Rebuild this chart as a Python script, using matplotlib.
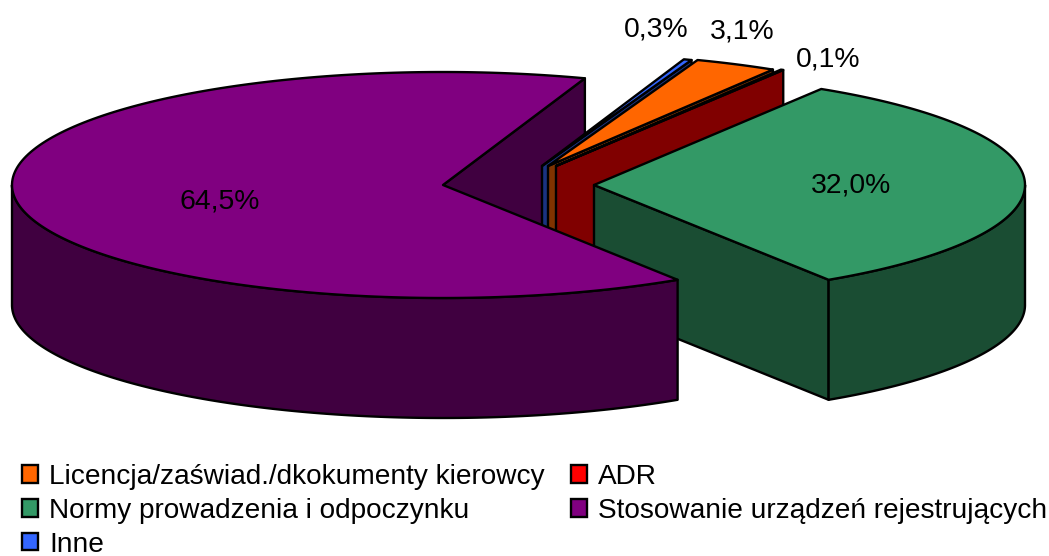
import numpy as np
import matplotlib
matplotlib.use("Agg")
import matplotlib.pyplot as plt
from matplotlib.patches import Patch, Polygon

plt.rcParams['font.family'] = ['Liberation Sans', 'DejaVu Sans']

# --- Data (clockwise, as in the legend) ---
categories = ["Licencja/zaświad./dkokumenty kierowcy", "ADR",
              "Normy prowadzenia i odpoczynku",
              "Stosowanie urządzeń rejestrujących", "Inne"]
values = [3.1, 0.1, 32.0, 64.5, 0.3]
value_labels = ["3,1%", "0,1%", "32,0%", "64,5%", "0,3%"]

top_colors = ["#FF6600", "#FF0000", "#339966", "#800080", "#3366FF"]
side_colors = ["#803300", "#800000", "#1A4D33", "#400040", "#1A3380"]

# --- Pie geometry in pixels ---
first_angle = 69.7
rx, ry, depth = 431, 113, 120
centers = [(548, 166), (556, 166), (594, 185), (443, 185), (542, 166)]
label_pos = [(742, 31), (828, 58), (851, 185), (220, 201), (656, 29)]
LW = 1.7


def arc(cx, cy, t0, t1):
    t = np.radians(np.linspace(t0, t1, 200))
    return np.column_stack([cx + rx * np.cos(t), cy - ry * np.sin(t)])


def draw_wall(ax, i):
    # flat cut face at the clockwise end of the slice
    cx, cy = centers[i]
    b = ends[i]
    if np.cos(np.radians(b)) > 0:
        end = arc(cx, cy, b, b)[0]
        wall = [(cx, cy), end, end + (0, depth), (cx, cy + depth)]
        ax.add_patch(Polygon(wall, fc=side_colors[i], ec="black", lw=LW, joinstyle="round"))


def draw_body(ax, i):
    cx, cy = centers[i]
    a, b = starts[i], ends[i]
    # front rim, only where the arc is turned to the viewer
    lo, hi = max(b, -180), min(a, 0)
    if lo < hi:
        edge = arc(cx, cy, lo, hi)
        rim = np.vstack([edge, (edge + (0, depth))[::-1]])
        ax.add_patch(Polygon(rim, fc=side_colors[i], ec="black", lw=LW, joinstyle="round"))
    face = np.vstack([[(cx, cy)], arc(cx, cy, a, b)])
    ax.add_patch(Polygon(face, fc=top_colors[i], ec="black", lw=LW, joinstyle="round"))


fig = plt.figure(figsize=(10.49, 5.56), dpi=100)
ax = fig.add_axes([0, 0, 1, 1])
ax.set_xlim(0, 1049)
ax.set_ylim(556, 0)
ax.axis("off")

# --- Slice angles from the values ---
spans = np.array(values) / sum(values) * 360
starts = first_angle - np.concatenate([[0], np.cumsum(spans)[:-1]])
ends = starts - spans

# the big slice's cut face sits behind the thin slices, its top in front of them
draw_wall(ax, 3)
for i in [4, 0, 1, 2]:
    draw_wall(ax, i)
    draw_body(ax, i)
draw_body(ax, 3)

for txt, (x, y) in zip(value_labels, label_pos):
    ax.text(x, y + 1, txt, fontsize=20.4, ha="center", va="center", color="black")

# --- Legend: columns fill top-down, so reorder for row-wise reading ---
legend_order = [0, 2, 4, 1, 3]
handles = [Patch(fc=top_colors[i], ec="black", lw=LW, label=categories[i]) for i in legend_order]
ax.legend(handles=handles, loc="upper left", bbox_to_anchor=(22 / 1049, 1 - 464 / 556),
          ncols=2, frameon=False, fontsize=20.2, borderpad=0, borderaxespad=0,
          handlelength=0.57, handleheight=0.57, handletextpad=0.4,
          columnspacing=0.92, labelspacing=0.28)

fig.savefig("out.png", dpi=100)
